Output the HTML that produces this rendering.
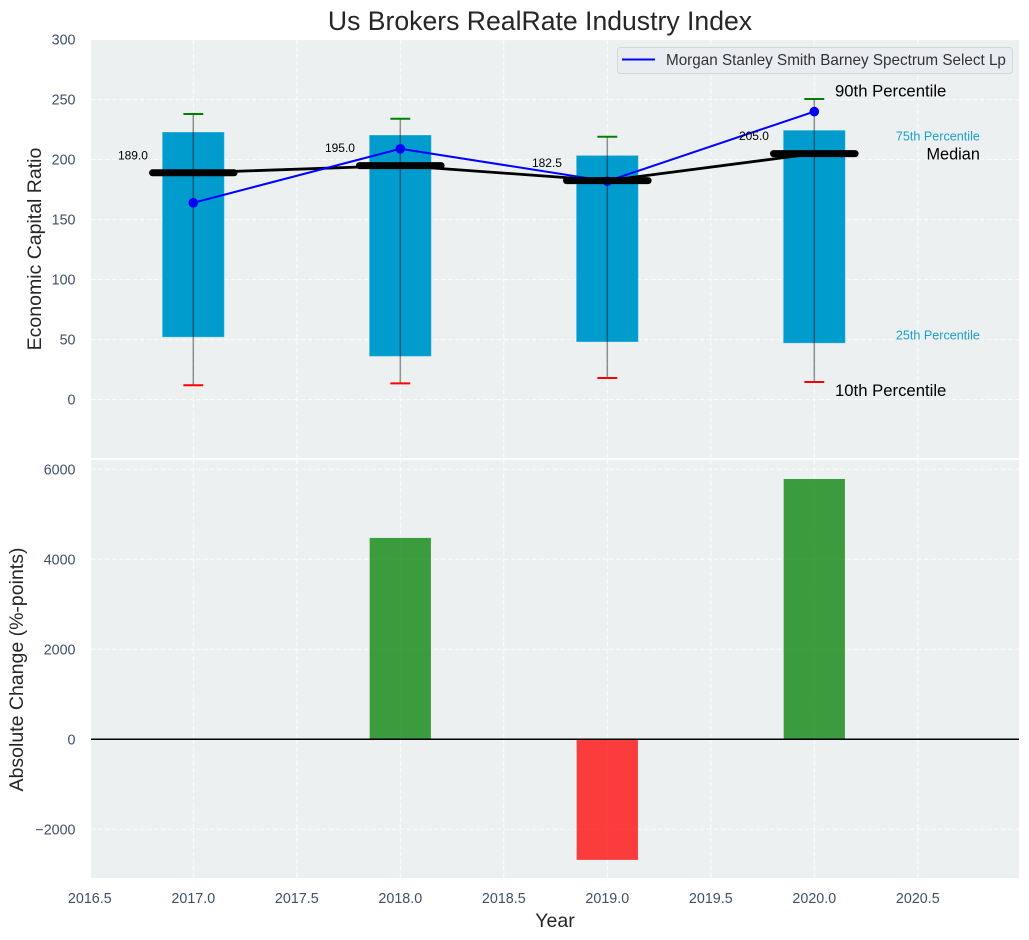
<!DOCTYPE html>
<html>
<head>
<meta charset="utf-8">
<title>Us Brokers RealRate Industry Index</title>
<style>
html,body{margin:0;padding:0;background:#fff;}
svg{display:block;}
text{font-family:"Liberation Sans",Arial,sans-serif;}
.tick{font-size:14.3px;fill:#3e5068;}
.axis-title{font-size:19.5px;fill:#262626;}
</style>
</head>
<body>
<svg id="chart" xmlns="http://www.w3.org/2000/svg" width="1029" height="940" viewBox="0 0 1029 940">
  <defs>
    <clipPath id="clip-top"><rect x="91" y="40" width="928" height="418"/></clipPath>
    <clipPath id="clip-bottom"><rect x="91" y="460" width="928" height="418"/></clipPath>
  </defs>
  <rect x="0" y="0" width="1029" height="940" fill="#ffffff"/>
  <text x="540" y="30" text-anchor="middle" font-size="26.6" fill="#262626">Us Brokers RealRate Industry Index</text>
  <rect x="91" y="40" width="928" height="418" fill="#ecf0f1"/>
  <rect x="91" y="460" width="928" height="418" fill="#ecf0f1"/>
  <g id="top-grid" clip-path="url(#clip-top)"></g>
  <g id="bottom-grid" clip-path="url(#clip-bottom)"></g>
  <g id="top-marks" clip-path="url(#clip-top)"></g>
  <g id="bottom-marks" clip-path="url(#clip-bottom)"></g>
  <g id="labels"></g>
  <text class="axis-title" transform="translate(41 249) rotate(-90)" text-anchor="middle">Economic Capital Ratio</text>
  <text class="axis-title" transform="translate(23 669.5) rotate(-90)" text-anchor="middle">Absolute Change (%-points)</text>
  <text class="axis-title" x="555" y="927" text-anchor="middle">Year</text>
  <g>
    <rect x="617.5" y="47.5" width="395" height="26" rx="3" fill="#e9ecf1" stroke="#d4d7da" stroke-width="1"/>
    <line x1="622" x2="655" y1="59.5" y2="59.5" stroke="#0000ff" stroke-width="2"/>
    <text x="666" y="65" font-size="15.25" fill="#333333">Morgan Stanley Smith Barney Spectrum Select Lp</text>
  </g>
</svg>
<script>
var years = [2017, 2018, 2019, 2020];
var p90 = [238, 234, 219, 250.5];
var p75 = [223, 220.5, 203.5, 224.5];
var median = [189, 195, 182.5, 205];
var p25 = [52, 36, 48, 47];
var p10 = [12, 13.5, 18, 14.7];
var firmRatio = [164, 209, 182, 240];
var absoluteChange = [0, 4475, -2680, 5785];
var xTicks = [2016.5, 2017, 2017.5, 2018, 2018.5, 2019, 2019.5, 2020, 2020.5];
var topYTicks = [0, 50, 100, 150, 200, 250, 300];
var bottomYTicks = [-2000, 0, 2000, 4000, 6000];

var NS = 'http://www.w3.org/2000/svg';
function xScale(v) { return 193.3 + (v - 2017) * 207; }
function yTop(v) { return 399.6 - v * 1.2; }
function yBottom(v) { return 739.3 - v * 0.045; }
function make(parent, tag, props, content) {
  var node = document.createElementNS(NS, tag);
  for (var key in props) { node.setAttribute(key, props[key]); }
  if (content !== undefined) { node.textContent = content; }
  parent.appendChild(node);
  return node;
}
function fmt(v) { return String(v).replace('-', '\u2212'); }

var topGrid = document.getElementById('top-grid');
var bottomGrid = document.getElementById('bottom-grid');
var topMarks = document.getElementById('top-marks');
var bottomMarks = document.getElementById('bottom-marks');
var labels = document.getElementById('labels');
var gridStyle = { stroke: '#ffffff', 'stroke-width': 1, 'stroke-opacity': 0.85, 'stroke-dasharray': '4.5 2.5' };
var el;

xTicks.forEach(function (t) {
  var x = xScale(t);
  el = make(topGrid, 'line', Object.assign({ x1: x, x2: x, y1: 40, y2: 458 }, gridStyle));
  
  
  el = make(bottomGrid, 'line', Object.assign({ x1: x, x2: x, y1: 460, y2: 878 }, gridStyle));
  
  
  el = make(labels, 'text', { x: x, y: 903, 'text-anchor': 'middle', 'class': 'tick' }, t.toFixed(1));
  
  
});
topYTicks.forEach(function (t) {
  var y = yTop(t);
  el = make(topGrid, 'line', Object.assign({ x1: 91, x2: 1019, y1: y, y2: y }, gridStyle));
  
  
  el = make(labels, 'text', { x: 75.5, y: y + 5, 'text-anchor': 'end', 'class': 'tick' }, fmt(t));
  
  
});
bottomYTicks.forEach(function (t) {
  var y = yBottom(t);
  el = make(bottomGrid, 'line', Object.assign({ x1: 91, x2: 1019, y1: y, y2: y }, gridStyle));
  
  
  el = make(labels, 'text', { x: 75.5, y: y + 5, 'text-anchor': 'end', 'class': 'tick' }, fmt(t));
  
  
});

years.forEach(function (yr, i) {
  var x = xScale(yr);
  el = make(topMarks, 'rect', {
    x: xScale(yr - 0.15), y: yTop(p75[i]), width: xScale(yr + 0.15) - xScale(yr - 0.15),
    height: yTop(p25[i]) - yTop(p75[i]), fill: '#009ccd', stroke: '#ffffff', 'stroke-opacity': 0.3, 'stroke-width': 1
  });
  
  
  el = make(topMarks, 'line', { x1: x, x2: x, y1: yTop(p90[i]), y2: yTop(p10[i]), stroke: '#000000', 'stroke-opacity': 0.42, 'stroke-width': 1.5 });
  
  
  el = make(topMarks, 'line', { x1: xScale(yr - 0.048), x2: xScale(yr + 0.048), y1: yTop(p90[i]), y2: yTop(p90[i]), stroke: '#008000', 'stroke-width': 2 });
  
  
  el = make(topMarks, 'line', { x1: xScale(yr - 0.048), x2: xScale(yr + 0.048), y1: yTop(p10[i]), y2: yTop(p10[i]), stroke: '#ff0000', 'stroke-width': 2 });
  
  
});

el = make(topMarks, 'polyline', {
  points: years.map(function (yr, i) { return xScale(yr) + ',' + yTop(median[i]); }).join(' '),
  fill: 'none', stroke: '#000000', 'stroke-width': 2.8
});



el = make(topMarks, 'polyline', {
  points: years.map(function (yr, i) { return xScale(yr) + ',' + yTop(firmRatio[i]); }).join(' '),
  fill: 'none', stroke: '#0000ff', 'stroke-width': 2
});



years.forEach(function (yr, i) {
  el = make(topMarks, 'circle', { cx: xScale(yr), cy: yTop(firmRatio[i]), r: 4.8, fill: '#0000ff' });
  
  
});

years.forEach(function (yr, i) {
  el = make(topMarks, 'line', {
    x1: xScale(yr - 0.197), x2: xScale(yr + 0.197), y1: yTop(median[i]), y2: yTop(median[i]),
    stroke: '#000000', 'stroke-width': 7, 'stroke-linecap': 'round'
  });
  
  
  el = make(topMarks, 'text', { x: xScale(yr - 0.364), y: yTop(median[i]) - 13.4, 'font-size': 12, fill: '#000000' }, median[i].toFixed(1));
  
  
});

var last = years.length - 1;
var lastYear = years[last];
el = make(topMarks, 'text', { x: xScale(lastYear + 0.1), y: yTop(p90[last]) - 2.4, 'font-size': 16.7, fill: '#000000' }, '90th Percentile');


el = make(topMarks, 'text', { x: xScale(lastYear + 0.1), y: yTop(p10[last]) + 13.8, 'font-size': 16.7, fill: '#000000' }, '10th Percentile');


el = make(topMarks, 'text', { x: xScale(lastYear + 0.8), y: yTop(p75[last]) + 10.2, 'font-size': 12.6, fill: '#1a9fcc', 'text-anchor': 'end' }, '75th Percentile');


el = make(topMarks, 'text', { x: xScale(lastYear + 0.8), y: yTop(p25[last]) - 3.8, 'font-size': 12.6, fill: '#1a9fcc', 'text-anchor': 'end' }, '25th Percentile');


el = make(topMarks, 'text', { x: xScale(lastYear + 0.8), y: yTop(median[last]) + 6, 'font-size': 16.3, fill: '#000000', 'text-anchor': 'end' }, 'Median');



years.forEach(function (yr, i) {
  var v = absoluteChange[i];
  if (v === 0) { return; }
  var yA = yBottom(Math.max(v, 0));
  var yB = yBottom(Math.min(v, 0));
  el = make(bottomMarks, 'rect', {
    x: xScale(yr - 0.148), y: yA, width: xScale(yr + 0.148) - xScale(yr - 0.148), height: yB - yA,
    fill: v >= 0 ? '#008000' : '#ff0000', 'fill-opacity': 0.75
  });
  
  
});
el = make(bottomMarks, 'line', { x1: 91, x2: 1019, y1: yBottom(0), y2: yBottom(0), stroke: '#000000', 'stroke-width': 1.5 });


</script>
</body>
</html>
